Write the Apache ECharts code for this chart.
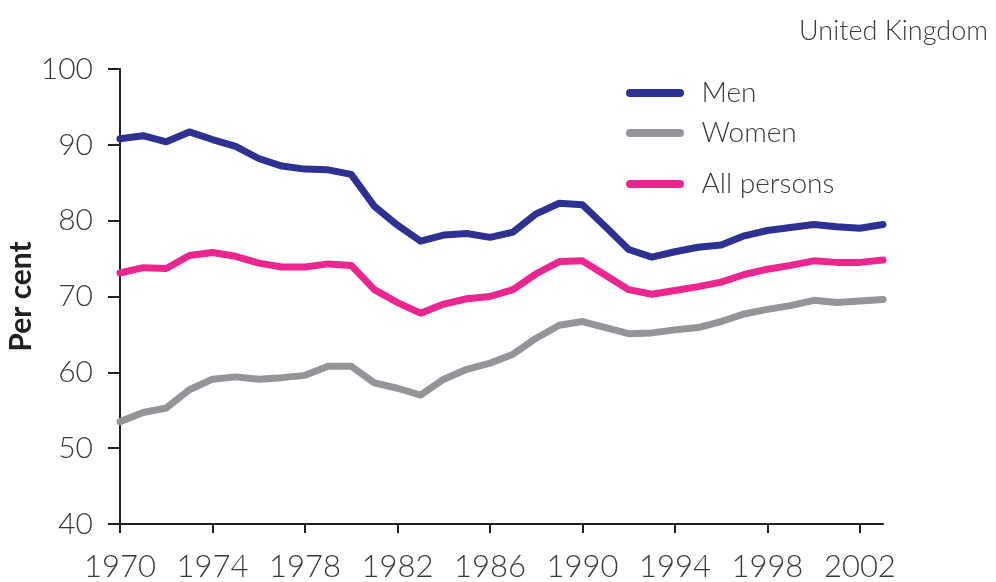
<!DOCTYPE html>
<html>
<head>
<meta charset="utf-8">
<script src="https://cdn.jsdelivr.net/npm/echarts@6/dist/echarts.min.js"></script>
<style>
  html, body { margin: 0; padding: 0; background: #fff; }
  #main { width: 996px; height: 582px; }
</style>
</head>
<body>
<div id="main"></div>
<script>
const years = [];
for (let y = 1970; y <= 2003; y++) years.push(String(y));

const men = [90.8, 91.2, 90.4, 91.7, 90.7, 89.8, 88.2, 87.2, 86.8, 86.7, 86.1, 81.9,
  79.4, 77.3, 78.1, 78.3, 77.8, 78.5, 80.9, 82.3, 82.1, 79.2, 76.2, 75.2, 75.9,
  76.5, 76.8, 78.0, 78.7, 79.1, 79.5, 79.2, 79.0, 79.5];
const women = [53.5, 54.7, 55.3, 57.7, 59.1, 59.4, 59.1, 59.3, 59.6, 60.8, 60.8, 58.6,
  57.9, 57.0, 59.1, 60.4, 61.2, 62.4, 64.5, 66.2, 66.7, 65.9, 65.1, 65.2, 65.6,
  65.9, 66.7, 67.7, 68.3, 68.8, 69.5, 69.2, 69.4, 69.6];
const allPersons = [73.1, 73.8, 73.7, 75.4, 75.8, 75.3, 74.4, 73.9, 73.9, 74.3, 74.1, 70.9,
  69.2, 67.8, 69.0, 69.7, 70.0, 70.9, 73.0, 74.6, 74.7, 72.8, 70.9, 70.3, 70.8,
  71.3, 71.9, 72.9, 73.6, 74.1, 74.7, 74.5, 74.5, 74.8];

const colors = { men: '#2e3192', women: '#939598', all: '#ec268f' };
const font = 'Lato, "Open Sans", sans-serif';
const txt = '#3a3a3a';
const icon = 'path://M4,0 H54 A4,4 0 0 1 54,8 H4 A4,4 0 0 1 4,0 Z';

function legendAt(name, top) {
  return {
    data: [name],
    left: 626,
    top: top,
    padding: 0,
    itemWidth: 59,
    itemHeight: 8,
    icon: icon,
    selectedMode: false,
    textStyle: { fontFamily: font, fontSize: 28, fontWeight: 300, color: txt, padding: [0, 0, 0, 12] }
  };
}

function lineSeries(name, data, color) {
  return {
    name: name,
    type: 'line',
    data: data,
    symbol: 'none',
    smooth: false,
    lineStyle: { color: color, width: 7, cap: 'round', join: 'round' },
    itemStyle: { color: color }
  };
}

const myChart = echarts.init(document.getElementById('main'));
const option = {
  animation: false,
  backgroundColor: '#fff',
  title: {
    text: 'United Kingdom',
    right: 3,
    top: 13,
    textStyle: { fontFamily: font, fontSize: 27, fontWeight: 300, color: txt }
  },
  legend: [
    legendAt('Men', 79),
    legendAt('Women', 119),
    legendAt('All persons', 170)
  ],
  grid: { left: 120, right: 113, top: 69, bottom: 58, containLabel: false, outerBoundsMode: 'none' },
  xAxis: {
    type: 'category',
    data: years,
    boundaryGap: false,
    axisLine: { lineStyle: { color: '#231f20', width: 2 } },
    axisTick: { interval: 3, length: 9, lineStyle: { color: '#231f20', width: 2 } },
    axisLabel: { interval: 3, margin: 27, fontFamily: font, fontSize: 31, fontWeight: 300, color: txt },
    splitLine: { show: false }
  },
  yAxis: {
    type: 'value',
    min: 40,
    max: 100,
    interval: 10,
    name: 'Per cent',
    nameLocation: 'middle',
    nameRotate: 90,
    nameGap: 84,
    nameMoveOverlap: false,
    nameTextStyle: { fontFamily: font, fontSize: 30, fontWeight: 'bold', color: '#231f20' },
    axisLine: { show: true, lineStyle: { color: '#231f20', width: 2 } },
    axisTick: { show: true, length: 12, lineStyle: { color: '#231f20', width: 2 } },
    axisLabel: { margin: 27, fontFamily: font, fontSize: 30, fontWeight: 300, color: txt },
    splitLine: { show: false }
  },
  series: [
    lineSeries('Men', men, colors.men),
    lineSeries('Women', women, colors.women),
    lineSeries('All persons', allPersons, colors.all)
  ]
};
myChart.setOption(option);
</script>
</body>
</html>
